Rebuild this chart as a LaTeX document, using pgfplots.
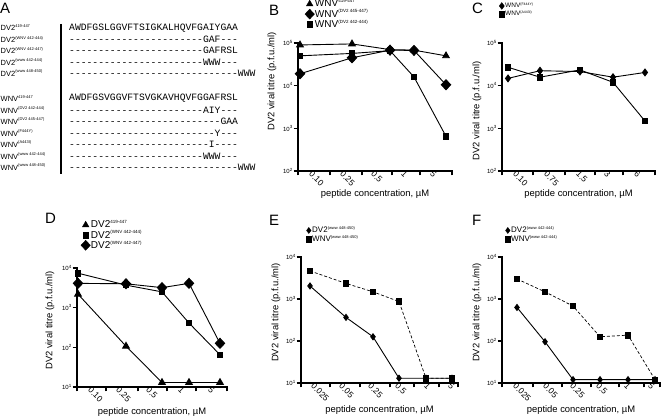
\documentclass[border=0pt]{standalone}
\usepackage{pgfplots}
\pgfplotsset{compat=1.18}
\usepackage{fontspec}
\setmainfont{Liberation Sans}
\setmonofont{Liberation Mono}
\newcommand\sps[2][4.5]{\raisebox{0.42em}{\fontsize{#1}{#1}\selectfont #2}}
\newcommand\dsh[1]{\foreach\i in {1,...,#1}{-}}
\pgfplotsset{
  prism/.style={
    scale only axis, clip=false, anchor=south west,
    axis x line*=bottom, axis y line*=left,
    axis line style={line width=1.7pt, -, line cap=rect},
    yminorticks=false,
    tick align=outside, major tick length=4.5pt,
    tick style={line width=1.4pt, black},
    xticklabels={},
    yticklabel style={font=\fontsize{6}{6}\selectfont, inner sep=1pt},
    label style={font=\fontsize{9.4}{11}\selectfont},
    xlabel={peptide concentration, µM},
    ylabel={DV2 viral titre (p.f.u./ml)},
    extra x tick style={major tick length=0pt, tick style={draw=none},
      xticklabel style={rotate=-45, anchor=north west, font=\fontsize{8.5}{8.5}\selectfont, inner sep=0pt, yshift=1pt}},
    legend cell align=left,
    legend style={draw=none, fill=none, anchor=north west, inner sep=0pt, outer sep=0pt, row sep=0pt,
      nodes={inner sep=0.6pt},
      /tikz/every even column/.append style={column sep=2pt}},
  },
}
\begin{document}
\begin{tikzpicture}
\useasboundingbox (0,0) rectangle (664pt,417pt);
% panel letters
\begin{scope}[every node/.style={anchor=north west, inner sep=0pt, font=\fontsize{15}{15}\selectfont}]
\node at (0pt,414pt) {A};
\node at (269pt,412pt) {B};
\node at (472pt,414pt) {C};
\node at (45pt,204pt) {D};
\node at (269pt,202pt) {E};
\node at (472pt,202pt) {F};
\end{scope}
% panel A: alignment
\begin{scope}[every node/.style={anchor=west, inner sep=0pt, font=\fontsize{7.5}{8}\selectfont}]
\node at (0.5pt,389pt) {DV2\sps[4]{419-447}};
\node at (0.5pt,377.5pt) {DV2\sps[4]{(WNV 442-444)}};
\node at (0.5pt,366.5pt) {DV2\sps[4]{(WNV 442-447)}};
\node at (0.5pt,355pt) {DV2\sps[4]{(www 442-444)}};
\node at (0.5pt,344pt) {DV2\sps[4]{(www 448-450)}};
\node at (0.5pt,318.5pt) {WNV\sps[4]{419-447}};
\node at (0.5pt,307pt) {WNV\sps[4]{(DV2 442-444)}};
\node at (0.5pt,296pt) {WNV\sps[4]{(DV2 445-447)}};
\node at (0.5pt,284pt) {WNV\sps[4]{(F444Y)}};
\node at (0.5pt,273pt) {WNV\sps[4]{(A443I)}};
\node at (0.5pt,261pt) {WNV\sps[4]{(www 442-444)}};
\node at (0.5pt,250pt) {WNV\sps[4]{(www 448-450)}};
\end{scope}
\draw[line width=1.3pt] (61pt,393pt) -- (61pt,243pt);
\begin{scope}[every node/.style={anchor=west, inner sep=0pt, font=\ttfamily\fontsize{9.7}{10}\selectfont}]
\node at (69pt,389pt) {AWDFGSLGGVFTSIGKALHQVFGAIYGAA};
\node at (69pt,377.5pt) {\dsh{23}GAF\dsh{3}};
\node at (69pt,366.5pt) {\dsh{23}GAFRSL};
\node at (69pt,355pt) {\dsh{23}WWW\dsh{3}};
\node at (69pt,344pt) {\dsh{29}WWW};
\node at (69pt,318.5pt) {AWDFGSVGGVFTSVGKAVHQVFGGAFRSL};
\node at (69pt,307pt) {\dsh{23}AIY\dsh{3}};
\node at (69pt,296pt) {\dsh{26}GAA};
\node at (69pt,284pt) {\dsh{25}Y\dsh{3}};
\node at (69pt,273pt) {\dsh{24}I\dsh{4}};
\node at (69pt,261pt) {\dsh{23}WWW\dsh{3}};
\node at (69pt,250pt) {\dsh{29}WWW};
\end{scope}

% ---------- B ----------
\begin{axis}[prism, ymode=log, at={(298pt,246pt)}, width=154pt, height=128pt,
  xmin=0, xmax=154, ymin=1e2, ymax=1e5,
  xtick={0,32,64,94,122,154},
  extra x ticks={14,45,76,106,135}, extra x tick labels={0.10,0.25,0.5,1,5},
  ytick={1e2,1e3,1e4,1e5}, yticklabels={10\sps{2},10\sps{3},10\sps{4},10\sps{5}},
  ylabel style={at={(axis description cs:0,0.70)}, anchor=center, yshift=26pt},
  xlabel style={at={(axis description cs:0.5,0)}, anchor=center, yshift=-23pt},
  legend image code/.code={\draw[#1] plot coordinates {(0pt,0pt)};},
  legend style={at={(axis description cs:0,1)}, xshift=7pt, yshift=44pt, font=\fontsize{10}{10}\selectfont}]
\addlegendimage{black, mark=triangle*, mark size=3.8pt}\addlegendentry{WNV\sps{419-447}}
\addlegendimage{black, mark=diamond*, mark size=5pt, mark options={xscale=1.25}}\addlegendentry{WNV\sps{(DV2 445-447)}}
\addlegendimage{black, mark=square*, mark size=2.8pt}\addlegendentry{WNV\sps{(DV2 442-444)}}
\addplot[black, line width=0.9pt, mark=triangle*, mark size=3.8pt, forget plot] coordinates {(2,90000)(54,95000)(92,70000)(116,68000)(148,50000)};
\addplot[black, line width=0.9pt, mark=diamond*, mark size=5pt, mark options={xscale=1.25}, forget plot] coordinates {(2,19000)(54,45000)(92,68000)(116,67000)(148,10500)};
\addplot[black, line width=0.9pt, mark=square*, mark size=2.8pt, forget plot] coordinates {(2,50000)(54,57000)(92,66000)(116,16000)(148,650)};
\end{axis}

% ---------- C ----------
\begin{axis}[prism, ymode=log, at={(502pt,246pt)}, width=153pt, height=128pt,
  xmin=0, xmax=153, ymin=1e2, ymax=1e5,
  xtick={0,31,63,93,121,153},
  extra x ticks={14,45,77,105,135}, extra x tick labels={0.10,0.75,1.5,3,6},
  ytick={1e2,1e3,1e4,1e5}, yticklabels={10\sps{2},10\sps{3},10\sps{4},10\sps{5}},
  ylabel style={at={(axis description cs:0,0.47)}, anchor=center, yshift=25pt},
  xlabel style={at={(axis description cs:0.5,0)}, anchor=center, yshift=-23pt},
  legend image code/.code={\draw[#1] plot coordinates {(0pt,0pt)};},
  legend style={at={(axis description cs:0,1)}, xshift=-3pt, yshift=41pt, font=\fontsize{6.5}{6.5}\selectfont}]
\addlegendimage{black, mark=diamond*, mark size=3.4pt}\addlegendentry{WNV\sps[3.5]{(F444Y)}}
\addlegendimage{black, mark=square*, mark size=2.8pt}\addlegendentry{WNV\sps[3.5]{(A443I)}}
\addplot[black, line width=0.9pt, mark=diamond*, mark size=3.4pt, forget plot] coordinates {(6,14800)(38,22400)(78,21400)(111,15800)(143,20400)};
\addplot[black, line width=0.9pt, mark=square*, mark size=2.8pt, forget plot] coordinates {(6,27000)(38,15800)(78,23400)(111,12000)(143,1480)};
\end{axis}

% ---------- D ----------
\begin{axis}[prism, ymode=log, at={(77pt,30pt)}, width=150pt, height=119pt,
  xmin=0, xmax=150, ymin=10, ymax=1e4,
  xtick={0,29,61,90,119,150},
  extra x ticks={14,42,72,104,134}, extra x tick labels={0.10,0.25,0.5,1,5},
  ytick={1e1,1e2,1e3,1e4}, yticklabels={10\sps{1},10\sps{2},10\sps{3},10\sps{4}},
  ylabel style={at={(axis description cs:0,0.56)}, anchor=center, yshift=27pt},
  xlabel style={at={(axis description cs:0.5,0)}, anchor=center, yshift=-25pt},
  legend image code/.code={\draw[#1] plot coordinates {(0pt,0pt)};},
  legend style={at={(axis description cs:0,1)}, xshift=4pt, yshift=48pt, font=\fontsize{10}{10}\selectfont}]
\addlegendimage{black, mark=triangle*, mark size=3.8pt}\addlegendentry{DV2\sps{419-447}}
\addlegendimage{black, mark=square*, mark size=2.8pt}\addlegendentry{DV2\sps{(WNV 442-444)}}
\addlegendimage{black, mark=diamond*, mark size=5pt, mark options={xscale=1.25}}\addlegendentry{DV2\sps{(WNV 442-447)}}
\addplot[black, line width=0.9pt, mark=triangle*, mark size=3.8pt, forget plot] coordinates {(1,2190)(49,107)(85,13)(112,13)(143,13)};
\addplot[black, line width=0.9pt, mark=square*, mark size=2.8pt, forget plot] coordinates {(1,7400)(49,3700)(85,2500)(112,410)(143,65)};
\addplot[black, line width=0.9pt, mark=diamond*, mark size=5pt, mark options={xscale=1.25}, forget plot] coordinates {(1,4100)(49,4000)(85,3200)(112,4100)(143,126)};
\end{axis}

% ---------- E ----------
\begin{axis}[prism, ymode=log, at={(301pt,34pt)}, width=157pt, height=126pt,
  xmin=0, xmax=157, ymin=10, ymax=1e4,
  xtick={0,29,59,89,113,138,157},
  extra x ticks={13,41,70,97,126,150}, extra x tick labels={0.025,0.05,0.25,0.5,1,5},
  ytick={1e1,1e2,1e3,1e4}, yticklabels={10\sps{1},10\sps{2},10\sps{3},10\sps{4}},
  ylabel style={at={(axis description cs:0,0.56)}, anchor=center, yshift=25pt},
  xlabel style={at={(axis description cs:0.5,0)}, anchor=center, yshift=-27pt},
  legend image code/.code={\draw[#1] plot coordinates {(0pt,0pt)};},
  legend style={at={(axis description cs:0,1)}, xshift=5pt, yshift=31pt, font=\fontsize{8}{8}\selectfont}]
\addlegendimage{black, mark=diamond*, mark size=3pt}\addlegendentry{DV2\sps[4]{(www 448-450)}}
\addlegendimage{black, mark=square*, mark size=2.8pt}\addlegendentry{WNV\sps[4]{(www 448-450)}}
\addplot[black, line width=0.7pt, dash pattern=on 3pt off 2pt, mark=square*, mark size=2.8pt, mark options={solid}, forget plot] coordinates {(9,4650)(45,2350)(72,1480)(98,870)(125,13)(151,13)};
\addplot[black, line width=0.9pt, mark=diamond*, mark size=3pt, forget plot] coordinates {(9,2040)(45,365)(72,126)(98,13)(125,13)(151,13)};
\end{axis}

% ---------- F ----------
\begin{axis}[prism, ymode=log, at={(502pt,34pt)}, width=158pt, height=126pt,
  xmin=0, xmax=158, ymin=10, ymax=1e4,
  xtick={0,31,60,89,117,142,158},
  extra x ticks={14,44,71,97,125,149}, extra x tick labels={0.025,0.05,0.25,0.5,1,5},
  ytick={1e1,1e2,1e3,1e4}, yticklabels={10\sps{1},10\sps{2},10\sps{3},10\sps{4}},
  ylabel style={at={(axis description cs:0,0.56)}, anchor=center, yshift=25pt},
  xlabel style={at={(axis description cs:0.5,0)}, anchor=center, yshift=-27pt},
  legend image code/.code={\draw[#1] plot coordinates {(0pt,0pt)};},
  legend style={at={(axis description cs:0,1)}, xshift=3pt, yshift=31pt, font=\fontsize{8}{8}\selectfont}]
\addlegendimage{black, mark=diamond*, mark size=3pt}\addlegendentry{DV2\sps[4]{(www 442-444)}}
\addlegendimage{black, mark=square*, mark size=2.8pt}\addlegendentry{WNV\sps[4]{(www 442-444)}}
\addplot[black, line width=0.7pt, dash pattern=on 3pt off 2pt, mark=square*, mark size=2.8pt, mark options={solid}, forget plot] coordinates {(15,3000)(43,1480)(71,680)(98,126)(126,138)(153,12)};
\addplot[black, line width=0.9pt, mark=diamond*, mark size=3pt, forget plot] coordinates {(15,630)(43,96)(71,12)(98,12)(126,12)(153,12)};
\end{axis}
\end{tikzpicture}
\end{document}
